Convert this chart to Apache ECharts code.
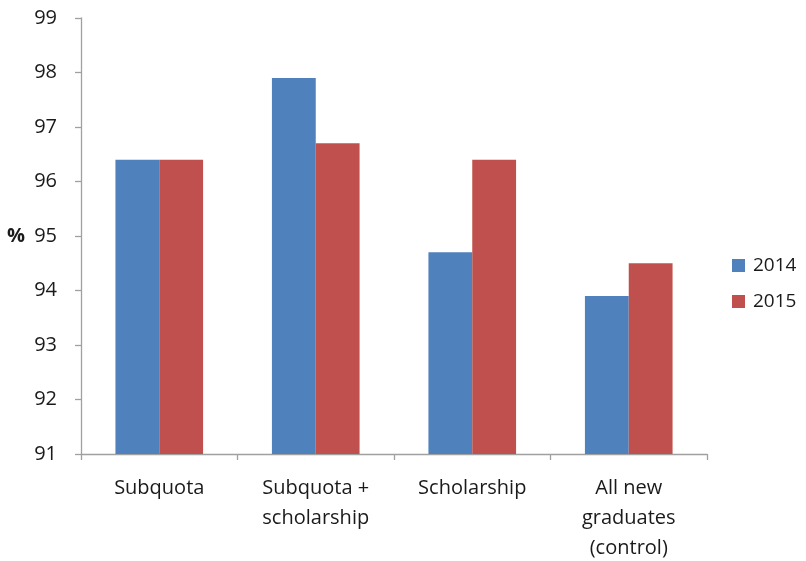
<!DOCTYPE html>
<html><head><meta charset="utf-8">
<script src="https://cdn.jsdelivr.net/npm/echarts@6/dist/echarts.min.js"></script>
<style>html,body{margin:0;padding:0;background:#fff}#c{width:806px;height:561px}</style>
</head><body><div id="c"></div>
<script>
const categories = ['Subquota', 'Subquota +\nscholarship', 'Scholarship', 'All new\ngraduates\n(control)'];
const seriesNames = ['2014', '2015'];
const values2014 = [96.4, 97.9, 94.7, 93.9];
const values2015 = [96.4, 96.7, 96.4, 94.5];
const yTicks = [91, 92, 93, 94, 95, 96, 97, 98, 99];

const FONT = 'Open Sans';
const chart = echarts.init(document.getElementById('c'), null, {renderer: 'canvas'});
chart.setOption({
  animation: false,
  textStyle: {fontFamily: FONT},
  grid: {left: 81, right: 99, top: 18, bottom: 107, containLabel: false, outerBoundsMode: 'none'},
  legend: {
    orient: 'vertical', left: 727, top: 251,
    itemWidth: 13, itemHeight: 13, itemGap: 17,
    icon: 'rect',
    textStyle: {fontFamily: FONT, fontSize: 19, color: '#1a1a1a', padding: [0, 0, 0, 3]},
    data: seriesNames
  },
  xAxis: {
    type: 'category', data: categories,
    axisLine: {lineStyle: {color: '#a0a0a0', width: 1.3}},
    axisTick: {show: true, alignWithLabel: false, length: 6, lineStyle: {color: '#a0a0a0', width: 1.3}},
    axisLabel: {fontFamily: FONT, fontSize: 20, color: '#1a1a1a', lineHeight: 30, margin: 19, interval: 0}
  },
  yAxis: {
    type: 'value', min: yTicks[0], max: yTicks[yTicks.length - 1], interval: 1,
    name: '%', nameLocation: 'middle', nameRotate: 0, nameGap: 56,
    nameTextStyle: {fontFamily: FONT, fontSize: 20, color: '#1a1a1a', fontWeight: 'bold'},
    axisLine: {show: true, lineStyle: {color: '#a0a0a0', width: 1.3}},
    axisTick: {show: true, length: 6, lineStyle: {color: '#a0a0a0', width: 1.3}},
    splitLine: {show: false},
    axisLabel: {fontFamily: FONT, fontSize: 20, color: '#1a1a1a', margin: 24}
  },
  series: [
    {name: seriesNames[0], type: 'bar', data: values2014, barGap: '0%', barCategoryGap: '44%',
     itemStyle: {color: '#4F81BD'}},
    {name: seriesNames[1], type: 'bar', data: values2015, barGap: '0%', barCategoryGap: '44%',
     itemStyle: {color: '#C0504D'}}
  ]
});
</script></body></html>
